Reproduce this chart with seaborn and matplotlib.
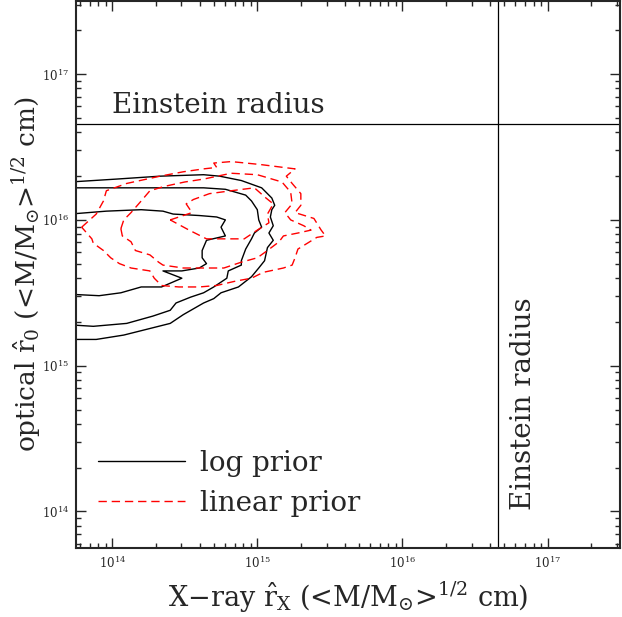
import numpy as np
import matplotlib
matplotlib.use('Agg')
import matplotlib.pyplot as plt
from matplotlib.ticker import LogLocator, NullFormatter
import seaborn as sns

# axis limits in log10(cm) and the Einstein radius
x_lim = [13.75, 17.5]
y_lim = [13.75, 17.5]
einstein_log = 16.658

# log prior contours (black), log10 of r_X and r_0
log_c1_x = [13.71, 14.03, 14.33, 14.63, 14.74, 14.89, 15.03, 15.10, 15.12, 15.10, 15.09, 15.11, 15.08, 15.11,
            15.07, 15.05, 15.01, 14.96, 14.87, 14.75, 14.70, 14.63, 14.49, 14.40, 14.24, 14.08, 13.89, 13.71]
log_c1_y = [16.26, 16.28, 16.30, 16.31, 16.30, 16.27, 16.22, 16.15, 16.10, 16.07, 16.02, 15.96, 15.91, 15.86,
            15.81, 15.72, 15.67, 15.61, 15.54, 15.50, 15.46, 15.43, 15.35, 15.29, 15.25, 15.21, 15.18, 15.18]
log_c2_x = [13.71, 14.20, 14.63, 14.78, 14.92, 14.96, 15.00, 15.01, 15.03, 14.98, 14.96, 14.92, 14.89,
            14.89, 14.80, 14.79, 14.70, 14.63, 14.54, 14.44, 14.40, 14.28, 14.10, 13.87, 13.71]
log_c2_y = [16.22, 16.22, 16.22, 16.21, 16.17, 16.13, 16.07, 16.00, 15.95, 15.91, 15.87, 15.80, 15.72,
            15.69, 15.65, 15.60, 15.54, 15.50, 15.47, 15.43, 15.38, 15.34, 15.29, 15.27, 15.28]
log_c3_x = [13.71, 13.96, 14.20, 14.35, 14.42, 14.60, 14.72, 14.78, 14.75, 14.78, 14.65, 14.62, 14.62,
            14.65, 14.60, 14.48, 14.35, 14.48, 14.34, 14.20, 14.06, 13.91, 13.71]
log_c3_y = [16.04, 16.06, 16.07, 16.06, 16.04, 16.03, 16.02, 16.00, 15.95, 15.89, 15.86, 15.79, 15.74,
            15.70, 15.67, 15.65, 15.65, 15.60, 15.54, 15.54, 15.50, 15.48, 15.49]

# linear prior contours (red dashed)
lin_c1_x = [13.79, 13.89, 13.94, 13.96, 14.10, 14.33, 14.49, 14.63, 14.72, 14.70, 14.82, 15.02, 15.26, 15.20,
            15.24, 15.30, 15.30, 15.26, 15.39, 15.44, 15.47, 15.41, 15.28, 15.26, 15.24, 15.18, 15.04, 14.96,
            14.85, 14.72, 14.60, 14.46, 14.34, 14.29, 14.26, 14.13, 14.05, 13.99, 13.94, 13.87, 13.86, 13.79]
lin_c1_y = [15.95, 16.04, 16.13, 16.20, 16.25, 16.30, 16.33, 16.35, 16.36, 16.39, 16.40, 16.38, 16.35, 16.30,
            16.25, 16.18, 16.10, 16.05, 16.01, 15.93, 15.89, 15.88, 15.80, 15.74, 15.69, 15.67, 15.64, 15.60,
            15.58, 15.55, 15.54, 15.54, 15.55, 15.60, 15.65, 15.67, 15.70, 15.74, 15.79, 15.84, 15.87, 15.95]
lin_c2_x = [14.06, 14.08, 14.13, 14.20, 14.26, 14.36, 14.50, 14.63, 14.82, 15.00, 15.17, 15.23, 15.24, 15.19,
            15.23, 15.32, 15.37, 15.28, 15.18, 15.15, 15.07, 15.00, 14.89, 14.77, 14.63, 14.49, 14.35, 14.32,
            14.26, 14.16, 14.13, 14.07, 14.06]
lin_c2_y = [15.94, 16.00, 16.05, 16.13, 16.20, 16.23, 16.26, 16.28, 16.32, 16.31, 16.26, 16.19, 16.11, 16.05,
            16.00, 15.96, 15.93, 15.91, 15.89, 15.85, 15.79, 15.74, 15.71, 15.67, 15.67, 15.67, 15.69, 15.71,
            15.76, 15.79, 15.85, 15.89, 15.94]
lin_c3_x = [14.40, 14.55, 14.51, 14.56, 14.67, 14.82, 14.98, 15.06, 15.11, 15.07, 15.08, 15.00, 14.91,
            14.77, 14.65, 14.53, 14.40]
lin_c3_y = [16.00, 16.05, 16.11, 16.14, 16.18, 16.20, 16.22, 16.15, 16.11, 16.04, 15.98, 15.93, 15.87,
            15.87, 15.87, 15.93, 16.00]

sns.set_style('ticks')
plt.rcParams['font.family'] = ['DejaVu Serif']
plt.rcParams['mathtext.fontset'] = 'dejavuserif'

fig = plt.figure(figsize=(6.22, 6.17), dpi=100)
ax = fig.add_axes([0.122, 0.112, 0.875, 0.886])
ax.set(xscale='log', yscale='log')

black_sets = [(log_c1_x, log_c1_y), (log_c2_x, log_c2_y), (log_c3_x, log_c3_y)]
red_sets = [(lin_c1_x, lin_c1_y), (lin_c2_x, lin_c2_y), (lin_c3_x, lin_c3_y)]

for i, (cx, cy) in enumerate(black_sets):
    sns.lineplot(x=10 ** np.array(cx), y=10 ** np.array(cy), sort=False, estimator=None,
                 color='black', linewidth=1.0, ax=ax,
                 label='log prior' if i == 0 else None)
for i, (cx, cy) in enumerate(red_sets):
    sns.lineplot(x=10 ** np.array(cx), y=10 ** np.array(cy), sort=False, estimator=None,
                 color='red', linewidth=1.0, linestyle=(0, (6, 3.5)), ax=ax,
                 label='linear prior' if i == 0 else None)

ax.axhline(10 ** einstein_log, color='black', linewidth=0.9)
ax.axvline(10 ** einstein_log, color='black', linewidth=0.9)
ax.text(1.0e14, 10 ** 16.73, 'Einstein radius', fontsize=20, va='baseline', ha='left')
ax.text(10 ** 16.93, 10 ** 14.01, 'Einstein radius', fontsize=20, rotation=90,
        va='bottom', ha='right')

ax.set_xlim(10 ** x_lim[0], 10 ** x_lim[1])
ax.set_ylim(10 ** y_lim[0], 10 ** y_lim[1])
for axis in (ax.xaxis, ax.yaxis):
    axis.set_major_locator(LogLocator(base=10))
    axis.set_minor_locator(LogLocator(base=10, subs=np.arange(2, 10)))
    axis.set_minor_formatter(NullFormatter())
ax.tick_params(which='both', direction='in', top=True, right=True, width=1)
ax.tick_params(which='major', length=7, labelsize=8.5, pad=5)
ax.tick_params(which='minor', length=3.5)
for sp in ax.spines.values():
    sp.set_linewidth(1.5)

ax.set_xlabel(r'X$-$ray $\hat{\mathrm{r}}_{\mathrm{X}}$ (<M/M$_{\odot}$>$^{1/2}$ cm)', fontsize=19.5)
ax.set_ylabel(r'optical $\hat{\mathrm{r}}_{0}$ (<M/M$_{\odot}$>$^{1/2}$ cm)', fontsize=19)
ax.xaxis.set_label_coords(0.5, -0.058)
ax.yaxis.set_label_coords(-0.06, 0.5)

ax.legend(loc='lower left', bbox_to_anchor=(0.04, 0.057), frameon=False, fontsize=20,
          handlelength=3.13, handletextpad=0.54, labelspacing=0.47, borderpad=0, borderaxespad=0)

plt.savefig('out.png', dpi=100)
